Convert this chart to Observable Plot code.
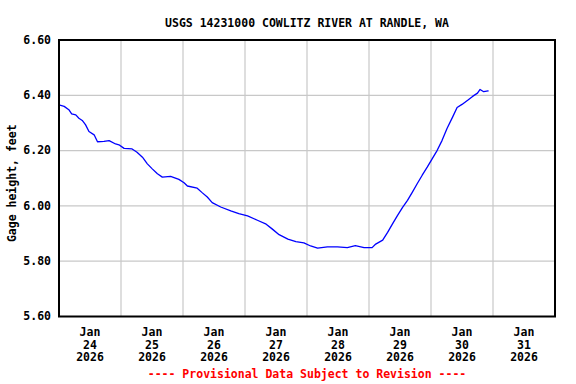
<!DOCTYPE html>
<html><head><meta charset="utf-8">
<script src="https://cdn.jsdelivr.net/npm/d3@7"></script>
<script src="https://cdn.jsdelivr.net/npm/@observablehq/plot@0.6"></script>
<style>body{margin:0;background:#fff} svg{display:block}</style>
</head><body><div id="chart"></div>
<script>
const title = "USGS 14231000 COWLITZ RIVER AT RANDLE, WA";
const yLabel = "Gage height, feet";
const footer = "---- Provisional Data Subject to Revision ----";
const startDay = [2026, 0, 24];
const dayTicks = [24, 25, 26, 27, 28, 29, 30, 31];
const yTicks = [5.6, 5.8, 6.0, 6.2, 6.4, 6.6];
// hours after 2026-01-24 00:00
const hours = [0, 2, 3.8, 4.9, 6.5, 7.7, 9, 10.3, 11.6, 13.6, 14.9, 17.4, 19.4, 21.9, 23.2, 25.2, 28.3, 30.2, 32.3, 34.2, 36.1, 38.1, 40, 43.2, 46.4, 48.4, 49.7, 53.5, 55.4, 57.4, 59.3, 62.6, 66.5, 69.6, 73, 76.8, 80.2, 82.6, 85.2, 88.6, 91.7, 94.8, 97.4, 100.1, 103.9, 107.8, 111.6, 114.7, 118.1, 121.2, 122.6, 125.3, 127.2, 129.1, 131, 133, 134.9, 136.8, 138.7, 140.6, 142.6, 144.5, 146.4, 148.3, 150.2, 152.4, 154.1, 156, 158.2, 160.1, 162, 163, 164.4, 166.1];
const gage = [6.365, 6.36, 6.348, 6.333, 6.329, 6.317, 6.309, 6.293, 6.269, 6.257, 6.232, 6.233, 6.236, 6.224, 6.221, 6.208, 6.206, 6.194, 6.176, 6.152, 6.134, 6.116, 6.104, 6.107, 6.096, 6.084, 6.072, 6.064, 6.048, 6.032, 6.012, 5.996, 5.982, 5.972, 5.964, 5.948, 5.934, 5.916, 5.896, 5.880, 5.871, 5.866, 5.855, 5.847, 5.852, 5.852, 5.849, 5.856, 5.849, 5.849, 5.862, 5.876, 5.904, 5.935, 5.965, 5.995, 6.02, 6.05, 6.081, 6.111, 6.141, 6.171, 6.201, 6.237, 6.28, 6.322, 6.356, 6.367, 6.382, 6.396, 6.408, 6.421, 6.413, 6.416];

const t0 = Date.UTC(...startDay);
const data = hours.map((h, i) => ({date: new Date(t0 + h * 3600e3), value: gage[i]}));
const midnights = d3.range(0, dayTicks.length + 1).map(d => new Date(t0 + d * 864e5));
const noons = dayTicks.map(d => new Date(Date.UTC(2026, 0, d, 12)));

const chart = Plot.plot({
  width: 576, height: 384,
  marginLeft: 58.5, marginRight: 21.5, marginTop: 39.5, marginBottom: 68,
  style: {fontFamily: "'DejaVu Sans Mono', monospace", fontWeight: "bold", fontSize: "11.5px", background: "#fff", color: "#000"},
  x: {type: "utc", domain: [midnights[0], midnights[midnights.length - 1]]},
  y: {domain: [5.6, 6.6]},
  marks: [
    Plot.ruleY(yTicks, {stroke: "#c8c8c8", strokeWidth: 1.2}),
    Plot.ruleX(midnights, {stroke: "#c8c8c8", strokeWidth: 1.2}),
    Plot.line(data, {x: "date", y: "value", stroke: "#0000ff", strokeWidth: 1.3}),
    Plot.frame({stroke: "#000", strokeWidth: 2}),
    Plot.axisY(yTicks, {tickSize: 0, tickPadding: 8, tickFormat: d => d.toFixed(2), label: null, fill: "#000"}),
    Plot.axisX(noons, {tickSize: 0, tickPadding: 10, tickFormat: d => `Jan\n${d.getUTCDate()}\n${d.getUTCFullYear()}`, label: null, lineHeight: 1.12, fill: "#000"}),
    Plot.text([title], {frameAnchor: "top", dy: -21, fill: "#000"}),
    Plot.text([yLabel], {frameAnchor: "left", rotate: -90, dx: -47, dy: 5, textAnchor: "middle", fill: "#000"}),
    Plot.text([footer], {frameAnchor: "bottom", dy: 61, fill: "#ff0000"})
  ]
});
document.getElementById("chart").appendChild(chart);
</script>
</body></html>
